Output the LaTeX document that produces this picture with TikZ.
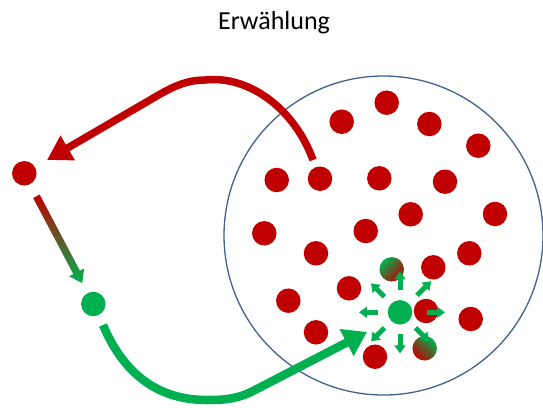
\documentclass[tikz,border=0pt]{standalone}
\usepackage{fontspec}
\setmainfont{Carlito}
\usetikzlibrary{arrows.meta,calc}
\definecolor{dred}{HTML}{C00000}
\definecolor{dgreen}{HTML}{00B050}
\definecolor{ringc}{HTML}{41628C}
\begin{document}
\begin{tikzpicture}[x=1pt,y=-1pt,
  dotr/.style={circle,fill=dred,minimum size=24.5pt,inner sep=0pt},
  dotg/.style={circle,fill=dgreen,minimum size=24.5pt,inner sep=0pt},
  dotmix/.style={circle,minimum size=24.5pt,inner sep=0pt,left color=dgreen,right color=dred},
  sarr/.style={draw=dgreen,line width=5pt,-{Triangle[width=11pt,length=8pt]}},
  bigred/.style={draw=dred,line width=7.5pt,line join=round,-{Triangle[width=27pt,length=24pt]}},
  biggreen/.style={draw=dgreen,line width=8.5pt,line join=round,-{Triangle[width=29pt,length=23pt]}}]
\useasboundingbox (0,0) rectangle (543,407);
\fill[white] (0,0) rectangle (543,407);
% title
\node[font=\fontsize{26}{30}\selectfont,anchor=base] (title) at (274,29) {Erwählung};
% ring
\node[circle,draw=ringc,line width=1.3pt,minimum size=319pt,inner sep=0pt] (ring) at (383.5,235.5) {};
% red dots in the ring
\foreach \x/\y [count=\i] in {341.7/121.7,386.7/102.7,429.3/124,478.3/145.7,276.7/180,320/178.7,379.3/178.3,445/181.7,410.7/214.3,495/214,264.3/233.3,365.7/231,316/253.3,469.3/253.3,433.3/267.3,288.3/300.7,349/288.3,426/311,470.7/319,316/332.3,375/356.7}
  \node[dotr] (d\i) at (\x,\y) {};
% mixed dots
\node[dotmix,shading angle=45] (m1) at (391.7,269.3) {};
\node[dotmix,shading angle=-45] (m2) at (424.7,348.3) {};
% green centre dot
\node[dotg] (c) at (400,312.3) {};
% outside dots
\node[dotr] (rdot) at (24.3,173.3) {};
\node[dotg] (gdot) at (93.3,304) {};
% small arrows
\draw[sarr] ($(c)+(0:27)$) -- ($(c)+(0:45)$);
\draw[sarr] ($(c)+(-45:24)$) -- ($(c)+(-45:44)$);
\foreach \a in {-90,-135,180,135,90,45}
  \draw[sarr] ($(c)+(\a:22)$) -- ($(c)+(\a:41)$);
% gradient arrow from red dot to green dot
\coordinate (gs) at ($(rdot)!26pt!(gdot)$);
\coordinate (gt) at ($(gdot)!23.7pt!(rdot)$);
\coordinate (ge) at ($(gt)!12pt!(gs)$);
\shade[top color=dred,bottom color=dgreen]
  ($(gs)!3.7pt!90:(gt)$) -- ($(ge)!3.7pt!-90:(gs)$) -- ($(ge)!8.5pt!-90:(gs)$) -- (gt)
  -- ($(ge)!8.5pt!90:(gs)$) -- ($(ge)!3.7pt!90:(gs)$) -- ($(gs)!3.7pt!-90:(gt)$) -- cycle;
% big red arrow
\draw[bigred] ($(d6)+(-7,-18.7)$) .. controls (295,110) and (250,75) .. (205,80)
  .. controls (185,80) and (170,88) .. (150,100) -- ($(rdot)+(22.7,-13.3)$);
% big green arrow
\draw[biggreen] ($(gdot)+(9.7,21)$) .. controls (120,365) and (150,400) .. (207,400)
  .. controls (225,400) and (238,399) .. (255,390) -- ($(c)+(-33,19.7)$);
\end{tikzpicture}
\end{document}
